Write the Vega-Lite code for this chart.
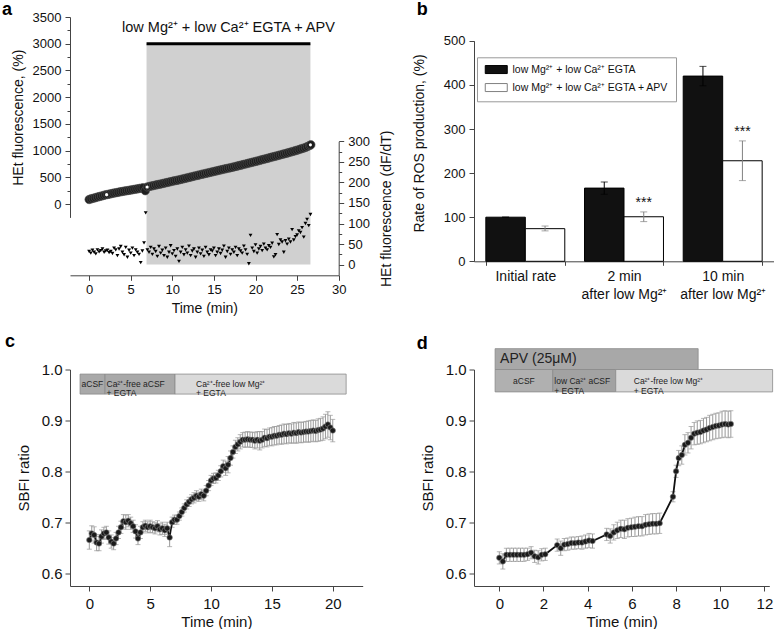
{
"$schema": "https://vega.github.io/schema/vega-lite/v6.json",
"background": "white",
"padding": {"left": 2, "top": 0, "right": 0, "bottom": 0},
"columns": 2,
"bounds": "flush",
"align": "all",
"spacing": {"row": 93.5, "column": 104},
"resolve": {"scale": {"fill": "independent", "stroke": "independent", "color": "independent"}, "legend": {"fill": "independent", "stroke": "independent", "color": "independent"}},
"datasets": {
"hetCurve": [{"t":0,"v":85},{"t":0.25,"v":97},{"t":0.5,"v":108},{"t":0.75,"v":119},{"t":1,"v":130},{"t":1.25,"v":141},{"t":1.5,"v":151},{"t":1.75,"v":162},{"t":2,"v":172},{"t":2.25,"v":180},{"t":2.5,"v":189},{"t":2.75,"v":197},{"t":3,"v":205},{"t":3.25,"v":213},{"t":3.5,"v":220},{"t":3.75,"v":228},{"t":4,"v":235},{"t":4.25,"v":242},{"t":4.5,"v":249},{"t":4.75,"v":255},{"t":5,"v":262},{"t":5.25,"v":269},{"t":5.5,"v":276},{"t":5.75,"v":283},{"t":6,"v":290},{"t":6.25,"v":297},{"t":6.5,"v":305},{"t":6.75,"v":250},{"t":7,"v":320},{"t":7.25,"v":329},{"t":7.5,"v":338},{"t":7.75,"v":346},{"t":8,"v":355},{"t":8.25,"v":364},{"t":8.5,"v":372},{"t":8.75,"v":381},{"t":9,"v":390},{"t":9.25,"v":399},{"t":9.5,"v":407},{"t":9.75,"v":416},{"t":10,"v":425},{"t":10.25,"v":434},{"t":10.5,"v":442},{"t":10.75,"v":451},{"t":11,"v":460},{"t":11.25,"v":470},{"t":11.5,"v":479},{"t":11.75,"v":489},{"t":12,"v":498},{"t":12.25,"v":508},{"t":12.5,"v":517},{"t":12.75,"v":527},{"t":13,"v":536},{"t":13.25,"v":545},{"t":13.5,"v":555},{"t":13.75,"v":564},{"t":14,"v":573},{"t":14.25,"v":582},{"t":14.5,"v":591},{"t":14.75,"v":600},{"t":15,"v":609},{"t":15.25,"v":618},{"t":15.5,"v":627},{"t":15.75,"v":636},{"t":16,"v":645},{"t":16.25,"v":654},{"t":16.5,"v":663},{"t":16.75,"v":672},{"t":17,"v":681},{"t":17.25,"v":690},{"t":17.5,"v":700},{"t":17.75,"v":709},{"t":18,"v":719},{"t":18.25,"v":728},{"t":18.5,"v":738},{"t":18.75,"v":747},{"t":19,"v":757},{"t":19.25,"v":767},{"t":19.5,"v":777},{"t":19.75,"v":787},{"t":20,"v":797},{"t":20.25,"v":807},{"t":20.5,"v":817},{"t":20.75,"v":828},{"t":21,"v":838},{"t":21.25,"v":848},{"t":21.5,"v":858},{"t":21.75,"v":869},{"t":22,"v":879},{"t":22.25,"v":889},{"t":22.5,"v":899},{"t":22.75,"v":910},{"t":23,"v":920},{"t":23.25,"v":931},{"t":23.5,"v":941},{"t":23.75,"v":952},{"t":24,"v":963},{"t":24.25,"v":974},{"t":24.5,"v":985},{"t":24.75,"v":996},{"t":25,"v":1008},{"t":25.25,"v":1020},{"t":25.5,"v":1033},{"t":25.75,"v":1046},{"t":26,"v":1060},{"t":26.25,"v":1076},{"t":26.5,"v":1094},{"t":26.65,"v":1108}],
"hetMarks": [{"t":2.1,"v":176},{"t":6.97,"v":319},{"t":26.6,"v":1108}],
"hetRate": [{"t":0,"r":32},{"t":0.2,"r":28},{"t":0.4,"r":35},{"t":0.6,"r":30},{"t":0.8,"r":26},{"t":1,"r":36},{"t":1.2,"r":31},{"t":1.4,"r":34},{"t":1.6,"r":38},{"t":1.8,"r":30},{"t":2,"r":33},{"t":2.2,"r":35},{"t":2.4,"r":29},{"t":2.6,"r":32},{"t":2.8,"r":27},{"t":3,"r":40},{"t":3.2,"r":36},{"t":3.4,"r":22},{"t":3.6,"r":38},{"t":3.8,"r":44},{"t":4,"r":30},{"t":4.2,"r":24},{"t":4.4,"r":42},{"t":4.6,"r":18},{"t":4.8,"r":35},{"t":5,"r":28},{"t":5.2,"r":40},{"t":5.4,"r":22},{"t":5.6,"r":36},{"t":5.8,"r":30},{"t":6,"r":25},{"t":6.2,"r":5},{"t":6.4,"r":33},{"t":6.6,"r":53},{"t":6.8,"r":126},{"t":7,"r":36},{"t":7.2,"r":30},{"t":7.4,"r":42},{"t":7.6,"r":25},{"t":7.8,"r":38},{"t":8,"r":32},{"t":8.2,"r":20},{"t":8.4,"r":44},{"t":8.6,"r":28},{"t":8.8,"r":35},{"t":9,"r":22},{"t":9.2,"r":40},{"t":9.4,"r":18},{"t":9.6,"r":30},{"t":9.8,"r":46},{"t":10,"r":26},{"t":10.2,"r":34},{"t":10.4,"r":20},{"t":10.6,"r":38},{"t":10.8,"r":8},{"t":11,"r":30},{"t":11.2,"r":42},{"t":11.4,"r":24},{"t":11.6,"r":36},{"t":11.8,"r":28},{"t":12,"r":45},{"t":12.2,"r":22},{"t":12.4,"r":33},{"t":12.6,"r":38},{"t":12.8,"r":18},{"t":13,"r":30},{"t":13.2,"r":40},{"t":13.4,"r":26},{"t":13.6,"r":35},{"t":13.8,"r":20},{"t":14,"r":42},{"t":14.2,"r":30},{"t":14.4,"r":24},{"t":14.6,"r":36},{"t":14.8,"r":33},{"t":15,"r":40},{"t":15.2,"r":22},{"t":15.4,"r":30},{"t":15.6,"r":38},{"t":15.8,"r":27},{"t":16,"r":35},{"t":16.2,"r":45},{"t":16.4,"r":18},{"t":16.6,"r":32},{"t":16.8,"r":40},{"t":17,"r":25},{"t":17.2,"r":36},{"t":17.4,"r":30},{"t":17.6,"r":42},{"t":17.8,"r":22},{"t":18,"r":38},{"t":18.2,"r":33},{"t":18.4,"r":28},{"t":18.6,"r":45},{"t":18.8,"r":36},{"t":19,"r":25},{"t":19.2,"r":2},{"t":19.4,"r":71},{"t":19.6,"r":40},{"t":19.8,"r":32},{"t":20,"r":48},{"t":20.2,"r":28},{"t":20.4,"r":38},{"t":20.6,"r":44},{"t":20.8,"r":34},{"t":21,"r":50},{"t":21.2,"r":40},{"t":21.4,"r":36},{"t":21.6,"r":46},{"t":21.8,"r":42},{"t":22,"r":52},{"t":22.2,"r":19},{"t":22.4,"r":24},{"t":22.6,"r":73},{"t":22.8,"r":49},{"t":23,"r":60},{"t":23.2,"r":55},{"t":23.4,"r":30},{"t":23.6,"r":58},{"t":23.8,"r":50},{"t":24,"r":62},{"t":24.2,"r":55},{"t":24.4,"r":85},{"t":24.6,"r":60},{"t":24.8,"r":68},{"t":25,"r":72},{"t":25.2,"r":82},{"t":25.4,"r":78},{"t":25.6,"r":90},{"t":25.8,"r":67},{"t":26,"r":100},{"t":26.2,"r":110},{"t":26.4,"r":95},{"t":26.6,"r":122}],
"ros": [
{"period":"Initial rate","cond":"low Mg²⁺ + low Ca²⁺ EGTA","value":100,"lo":100,"hi":100,"sig":""},
{"period":"Initial rate","cond":"low Mg²⁺ + low Ca²⁺ EGTA + APV","value":74,"lo":69,"hi":80,"sig":""},
{"period":"2 min|after low Mg²⁺","cond":"low Mg²⁺ + low Ca²⁺ EGTA","value":166,"lo":152,"hi":180,"sig":""},
{"period":"2 min|after low Mg²⁺","cond":"low Mg²⁺ + low Ca²⁺ EGTA + APV","value":101,"lo":90,"hi":112,"sig":"***"},
{"period":"10 min|after low Mg²⁺","cond":"low Mg²⁺ + low Ca²⁺ EGTA","value":420,"lo":398,"hi":442,"sig":""},
{"period":"10 min|after low Mg²⁺","cond":"low Mg²⁺ + low Ca²⁺ EGTA + APV","value":228,"lo":183,"hi":273,"sig":"***"}],
"sbfiC": [{"t":0,"v":0.665,"e":0.018},{"t":0.2,"v":0.678,"e":0.015},{"t":0.4,"v":0.675,"e":0.016},{"t":0.6,"v":0.66,"e":0.016},{"t":0.8,"v":0.658,"e":0.014},{"t":1,"v":0.672,"e":0.013},{"t":1.2,"v":0.678,"e":0.012},{"t":1.4,"v":0.68,"e":0.012},{"t":1.6,"v":0.67,"e":0.013},{"t":1.8,"v":0.662,"e":0.013},{"t":2,"v":0.658,"e":0.012},{"t":2.2,"v":0.668,"e":0.012},{"t":2.4,"v":0.68,"e":0.012},{"t":2.6,"v":0.69,"e":0.012},{"t":2.8,"v":0.702,"e":0.013},{"t":3,"v":0.7,"e":0.014},{"t":3.2,"v":0.703,"e":0.012},{"t":3.4,"v":0.698,"e":0.012},{"t":3.6,"v":0.692,"e":0.012},{"t":3.8,"v":0.682,"e":0.013},{"t":4,"v":0.668,"e":0.012},{"t":4.2,"v":0.68,"e":0.012},{"t":4.4,"v":0.69,"e":0.011},{"t":4.6,"v":0.693,"e":0.011},{"t":4.8,"v":0.69,"e":0.011},{"t":5,"v":0.692,"e":0.012},{"t":5.2,"v":0.69,"e":0.011},{"t":5.4,"v":0.688,"e":0.011},{"t":5.6,"v":0.692,"e":0.011},{"t":5.8,"v":0.686,"e":0.011},{"t":6,"v":0.688,"e":0.012},{"t":6.2,"v":0.684,"e":0.012},{"t":6.4,"v":0.688,"e":0.012},{"t":6.6,"v":0.67,"e":0.018},{"t":6.8,"v":0.7,"e":0.01},{"t":7,"v":0.705,"e":0.009},{"t":7.2,"v":0.705,"e":0.009},{"t":7.4,"v":0.712,"e":0.008},{"t":7.6,"v":0.72,"e":0.008},{"t":7.8,"v":0.728,"e":0.008},{"t":8,"v":0.735,"e":0.009},{"t":8.2,"v":0.74,"e":0.009},{"t":8.4,"v":0.745,"e":0.009},{"t":8.6,"v":0.748,"e":0.01},{"t":8.8,"v":0.752,"e":0.01},{"t":9,"v":0.75,"e":0.009},{"t":9.2,"v":0.755,"e":0.01},{"t":9.4,"v":0.752,"e":0.01},{"t":9.6,"v":0.762,"e":0.01},{"t":9.8,"v":0.772,"e":0.01},{"t":10,"v":0.782,"e":0.01},{"t":10.2,"v":0.786,"e":0.01},{"t":10.4,"v":0.787,"e":0.01},{"t":10.6,"v":0.792,"e":0.01},{"t":10.8,"v":0.8,"e":0.011},{"t":11,"v":0.81,"e":0.012},{"t":11.2,"v":0.806,"e":0.014},{"t":11.4,"v":0.813,"e":0.016},{"t":11.6,"v":0.826,"e":0.014},{"t":11.8,"v":0.838,"e":0.012},{"t":12,"v":0.848,"e":0.013},{"t":12.2,"v":0.853,"e":0.013},{"t":12.4,"v":0.858,"e":0.014},{"t":12.6,"v":0.862,"e":0.014},{"t":12.8,"v":0.862,"e":0.015},{"t":13,"v":0.863,"e":0.015},{"t":13.2,"v":0.862,"e":0.015},{"t":13.4,"v":0.862,"e":0.015},{"t":13.6,"v":0.86,"e":0.016},{"t":13.8,"v":0.862,"e":0.016},{"t":14,"v":0.86,"e":0.018},{"t":14.2,"v":0.862,"e":0.016},{"t":14.4,"v":0.866,"e":0.017},{"t":14.6,"v":0.865,"e":0.017},{"t":14.8,"v":0.868,"e":0.017},{"t":15,"v":0.868,"e":0.018},{"t":15.2,"v":0.87,"e":0.018},{"t":15.4,"v":0.87,"e":0.018},{"t":15.6,"v":0.872,"e":0.018},{"t":15.8,"v":0.872,"e":0.019},{"t":16,"v":0.874,"e":0.019},{"t":16.2,"v":0.873,"e":0.019},{"t":16.4,"v":0.875,"e":0.019},{"t":16.6,"v":0.874,"e":0.019},{"t":16.8,"v":0.876,"e":0.02},{"t":17,"v":0.875,"e":0.02},{"t":17.2,"v":0.877,"e":0.02},{"t":17.4,"v":0.876,"e":0.02},{"t":17.6,"v":0.877,"e":0.02},{"t":17.8,"v":0.878,"e":0.02},{"t":18,"v":0.878,"e":0.021},{"t":18.2,"v":0.879,"e":0.021},{"t":18.4,"v":0.88,"e":0.021},{"t":18.6,"v":0.879,"e":0.021},{"t":18.8,"v":0.881,"e":0.022},{"t":19,"v":0.882,"e":0.022},{"t":19.2,"v":0.884,"e":0.023},{"t":19.4,"v":0.888,"e":0.024},{"t":19.6,"v":0.892,"e":0.025},{"t":19.8,"v":0.886,"e":0.024},{"t":20,"v":0.88,"e":0.022}],
"sbfiD": [{"t":0,"v":0.63,"e":0.012},{"t":0.16,"v":0.623,"e":0.015},{"t":0.32,"v":0.636,"e":0.013},{"t":0.48,"v":0.636,"e":0.013},{"t":0.64,"v":0.636,"e":0.013},{"t":0.8,"v":0.636,"e":0.013},{"t":0.96,"v":0.636,"e":0.013},{"t":1.12,"v":0.636,"e":0.013},{"t":1.28,"v":0.637,"e":0.012},{"t":1.44,"v":0.64,"e":0.012},{"t":1.6,"v":0.633,"e":0.012},{"t":1.76,"v":0.631,"e":0.013},{"t":1.92,"v":0.636,"e":0.012},{"t":2.08,"v":0.637,"e":0.012},{"t":2.62,"v":0.655,"e":0.012},{"t":2.78,"v":0.649,"e":0.014},{"t":2.94,"v":0.656,"e":0.012},{"t":3.1,"v":0.657,"e":0.012},{"t":3.26,"v":0.659,"e":0.012},{"t":3.42,"v":0.659,"e":0.012},{"t":3.58,"v":0.66,"e":0.012},{"t":3.74,"v":0.66,"e":0.013},{"t":3.9,"v":0.662,"e":0.013},{"t":4.06,"v":0.664,"e":0.014},{"t":4.22,"v":0.663,"e":0.014},{"t":4.86,"v":0.676,"e":0.012},{"t":5.02,"v":0.673,"e":0.014},{"t":5.18,"v":0.68,"e":0.015},{"t":5.34,"v":0.684,"e":0.016},{"t":5.5,"v":0.687,"e":0.017},{"t":5.66,"v":0.686,"e":0.018},{"t":5.82,"v":0.689,"e":0.018},{"t":5.98,"v":0.69,"e":0.018},{"t":6.14,"v":0.691,"e":0.019},{"t":6.3,"v":0.692,"e":0.019},{"t":6.46,"v":0.692,"e":0.019},{"t":6.62,"v":0.695,"e":0.02},{"t":6.78,"v":0.696,"e":0.02},{"t":6.94,"v":0.697,"e":0.02},{"t":7.1,"v":0.697,"e":0.02},{"t":7.26,"v":0.698,"e":0.02},{"t":7.86,"v":0.75,"e":0.01},{"t":8,"v":0.8,"e":0.012},{"t":8.12,"v":0.826,"e":0.015},{"t":8.26,"v":0.832,"e":0.018},{"t":8.4,"v":0.852,"e":0.02},{"t":8.54,"v":0.856,"e":0.02},{"t":8.68,"v":0.866,"e":0.022},{"t":8.82,"v":0.874,"e":0.022},{"t":8.96,"v":0.876,"e":0.023},{"t":9.1,"v":0.877,"e":0.023},{"t":9.24,"v":0.88,"e":0.024},{"t":9.38,"v":0.882,"e":0.024},{"t":9.52,"v":0.885,"e":0.025},{"t":9.66,"v":0.887,"e":0.025},{"t":9.8,"v":0.889,"e":0.025},{"t":9.94,"v":0.89,"e":0.025},{"t":10.08,"v":0.892,"e":0.026},{"t":10.22,"v":0.893,"e":0.026},{"t":10.36,"v":0.892,"e":0.026},{"t":10.48,"v":0.893,"e":0.026}],
"stepsC": [{"order":1,"start":-0.76,"end":1.29,"label":"aCSF"},{"order":2,"start":1.29,"end":7.04,"label":"Ca²⁺-free aCSF|+ EGTA"},{"order":3,"start":7.04,"end":21.1,"label":"Ca²⁺-free low Mg²⁺|+ EGTA"}],
"stepsD": [{"order":1,"start":-0.19,"end":2.42,"label":"aCSF"},{"order":2,"start":2.42,"end":5.27,"label":"low Ca²⁺ aCSF|+ EGTA"},{"order":3,"start":5.27,"end":12.37,"label":"Ca²⁺-free low Mg²⁺| + EGTA"}],
"apv": [{"start":-0.19,"end":9.0,"label":"APV (25μM)"}],
"treatA": [{"start":6.9,"end":26.6,"label":"low Mg²⁺ + low Ca²⁺  EGTA + APV"}]
},
"concat": [
{
 "width": 268.7, "height": 258.3,
 "title": {"text": "a", "dx": -68, "dy": 8.4, "offset": 0},
 "layer": [
   {"data": {"name": "treatA"}, "mark": {"type": "rect", "color": "#d0d0d0"},
    "encoding": {"x": {"field": "start", "type": "quantitative", "scale": {"domain": [-2.3, 30], "nice": false, "zero": false}, "title": "Time (min)"}, "x2": {"field": "end"},
     "y": {"datum": 3000, "type": "quantitative", "scale": {"domain": [-250, 3500], "range": [200.4, 0], "nice": false, "zero": false}, "axis": null}, "y2": {"datum": -1130}}},
   {"data": {"name": "treatA"}, "mark": {"type": "rule", "strokeWidth": 3, "color": "#000"},
    "encoding": {"x": {"field": "start", "type": "quantitative", "scale": {"domain": [-2.3, 30], "nice": false, "zero": false}, "title": "Time (min)"}, "x2": {"field": "end"},
     "y": {"datum": 3000, "type": "quantitative", "scale": {"domain": [-250, 3500], "range": [200.4, 0], "nice": false, "zero": false}, "axis": null}}},
   {"data": {"name": "treatA"}, "mark": {"type": "text", "fontSize": 14.5, "align": "center", "baseline": "middle", "color": "#111"},
    "encoding": {"x": {"datum": 16.75, "type": "quantitative", "scale": {"domain": [-2.3, 30], "nice": false, "zero": false}, "title": "Time (min)"},
     "y": {"datum": 3288, "type": "quantitative", "scale": {"domain": [-250, 3500], "range": [200.4, 0], "nice": false, "zero": false}, "axis": null}, "text": {"field": "label"}}},
   {"data": {"name": "hetCurve"}, "mark": {"type": "point", "filled": true, "size": 72, "color": "#1e1e1e", "stroke": "#555", "strokeWidth": 0.6, "opacity": 1},
    "encoding": {"x": {"field": "t", "type": "quantitative", "scale": {"domain": [-2.3, 30], "nice": false, "zero": false}, "title": "Time (min)",
       "axis": {"values": [0,2.5,5,7.5,10,12.5,15,17.5,20,22.5,25,27.5,30], "labelOverlap": false, "labelExpr": "datum.value % 5 === 0 ? datum.label : ''", "tickSize": {"condition": {"test": "datum.value % 5 === 0", "value": 5}, "value": 3}, "labelPadding": 3, "titleY": 26, "titleBaseline": "top", "labelFontSize": 13, "titleFontSize": 14}},
     "y": {"field": "v", "type": "quantitative", "scale": {"domain": [-250, 3500], "range": [200.4, 0], "nice": false, "zero": false}, "title": "HEt fluorescence, (%)",
       "axis": {"orient": "left", "values": [0,250,500,750,1000,1250,1500,1750,2000,2250,2500,2750,3000,3250,3500], "labelOverlap": false, "format": "d", "labelExpr": "datum.value % 500 === 0 ? datum.label : ''", "tickSize": {"condition": {"test": "datum.value % 500 === 0", "value": 5}, "value": 3}, "labelPadding": 4, "titleX": -45, "labelFontSize": 13, "titleFontSize": 14}}}},
   {"data": {"name": "hetMarks"}, "mark": {"type": "point", "filled": true, "size": 10, "color": "#fff", "opacity": 1},
    "encoding": {"x": {"field": "t", "type": "quantitative", "scale": {"domain": [-2.3, 30], "nice": false, "zero": false}, "title": "Time (min)"},
     "y": {"field": "v", "type": "quantitative", "scale": {"domain": [-250, 3500], "range": [200.4, 0], "nice": false, "zero": false}, "axis": null}}},
  {"data": {"name": "hetRate"}, "mark": {"type": "point", "shape": "triangle-down", "filled": true, "size": 15, "color": "#000", "opacity": 1},
   "encoding": {"x": {"field": "t", "type": "quantitative", "scale": {"domain": [-2.3, 30], "nice": false, "zero": false}, "title": "Time (min)"},
    "y": {"field": "r", "type": "quantitative", "scale": {"domain": [-26, 300], "range": [258.3, 124.3], "nice": false, "zero": false}, "title": "HEt fluorescence (dF/dT)",
      "axis": {"orient": "right", "values": [0,25,50,75,100,125,150,175,200,225,250,275,300], "labelOverlap": false, "format": "d", "labelExpr": "datum.value % 50 === 0 ? datum.label : ''", "tickSize": {"condition": {"test": "datum.value % 50 === 0", "value": 5}, "value": 3}, "labelPadding": 4, "titleAngle": -90, "titleBaseline": "bottom", "titleX": 54.7, "titleY": 191.3, "labelFontSize": 13, "titleFontSize": 14}}}}
 ],
 "resolve": {"scale": {"y": "independent"}, "axis": {"y": "independent"}}
},
{
 "width": 300, "height": 244.3,
 "title": {"text": "b", "dx": -57.3, "dy": 1.9, "offset": 0},
 "data": {"name": "ros"},
 "encoding": {
  "x": {"field": "period", "type": "nominal", "sort": ["Initial rate", "2 min|after low Mg²⁺", "10 min|after low Mg²⁺"], "scale": {"paddingInner": 0.2, "paddingOuter": 0.12}, "title": null,
   "axis": {"labelExpr": "split(datum.label, '|')", "labelAngle": 0, "labelFontSize": 14, "labelLineHeight": 18, "tickBand": "extent", "labelPadding": 4, "tickSize": 4}},
  "xOffset": {"field": "cond", "type": "nominal", "sort": ["low Mg²⁺ + low Ca²⁺ EGTA", "low Mg²⁺ + low Ca²⁺ EGTA + APV"], "scale": {"paddingInner": 0, "paddingOuter": 0}}
 },
 "layer": [
  {"mark": {"type": "bar", "stroke": "#000", "strokeWidth": 1},
   "encoding": {"y": {"field": "value", "type": "quantitative", "scale": {"domain": [0, 500], "range": [244.3, 23.8], "nice": false}, "title": "Rate of ROS production, (%)",
     "axis": {"values": [0,50,100,150,200,250,300,350,400,450,500], "labelOverlap": false, "format": "d", "labelExpr": "datum.value % 100 === 0 ? datum.label : ''", "tickSize": {"condition": {"test": "datum.value % 100 === 0", "value": 5}, "value": 3}, "labelPadding": 4, "titleX": -47.3, "titleY": 126, "labelFontSize": 13, "titleFontSize": 14}},
    "fill": {"field": "cond", "type": "nominal", "scale": {"domain": ["low Mg²⁺ + low Ca²⁺ EGTA", "low Mg²⁺ + low Ca²⁺ EGTA + APV"], "range": ["#111111", "#ffffff"]},
     "legend": {"title": null, "orient": "none", "legendX": 3, "legendY": 40.3, "direction": "vertical", "symbolType": "M-1,-1L4.5,-1L4.5,1L-1,1Z", "symbolSize": 64, "symbolStrokeColor": "#000", "symbolStrokeWidth": 1, "labelFontSize": 10.5, "labelOffset": 18, "padding": 7, "rowPadding": 5, "fillColor": "#ffffff", "strokeColor": "#999999", "labelLimit": 300}}}},
  {"mark": {"type": "rule", "strokeWidth": 1},
   "encoding": {"y": {"field": "lo", "type": "quantitative", "scale": {"domain": [0, 500], "range": [244.3, 23.8], "nice": false}, "title": "Rate of ROS production, (%)"}, "y2": {"field": "hi"},
    "stroke": {"field": "cond", "type": "nominal", "scale": {"domain": ["low Mg²⁺ + low Ca²⁺ EGTA", "low Mg²⁺ + low Ca²⁺ EGTA + APV"], "range": ["#000000", "#808080"]}, "legend": null}}},
  {"mark": {"type": "tick", "orient": "horizontal", "size": 7, "thickness": 1},
   "encoding": {"y": {"field": "hi", "type": "quantitative", "scale": {"domain": [0, 500], "range": [244.3, 23.8], "nice": false}, "title": "Rate of ROS production, (%)"},
    "color": {"field": "cond", "type": "nominal", "scale": {"domain": ["low Mg²⁺ + low Ca²⁺ EGTA", "low Mg²⁺ + low Ca²⁺ EGTA + APV"], "range": ["#000000", "#808080"]}, "legend": null}}},
  {"mark": {"type": "tick", "orient": "horizontal", "size": 7, "thickness": 1},
   "encoding": {"y": {"field": "lo", "type": "quantitative", "scale": {"domain": [0, 500], "range": [244.3, 23.8], "nice": false}, "title": "Rate of ROS production, (%)"},
    "color": {"field": "cond", "type": "nominal", "scale": {"domain": ["low Mg²⁺ + low Ca²⁺ EGTA", "low Mg²⁺ + low Ca²⁺ EGTA + APV"], "range": ["#000000", "#808080"]}, "legend": null}}},
  {"transform": [{"filter": "datum.sig !== ''"}], "mark": {"type": "text", "fontSize": 14, "baseline": "alphabetic", "dy": -5, "color": "#111"},
   "encoding": {"y": {"field": "hi", "type": "quantitative", "scale": {"domain": [0, 500], "range": [244.3, 23.8], "nice": false}, "title": "Rate of ROS production, (%)"}, "text": {"field": "sig"}}}
 ]
},
{
 "width": 292.7, "height": 216.5,
 "title": {"text": "c", "dx": -65, "dy": -12, "offset": 0},
 "layer": [
  {"data": {"name": "stepsC"}, "mark": {"type": "rect", "stroke": "#8a8a8a", "strokeWidth": 0.8},
   "encoding": {"x": {"field": "start", "type": "quantitative", "scale": {"domain": [-1.586, 22.46], "nice": false, "zero": false}, "title": "Time (min)"}, "x2": {"field": "end"},
    "y": {"datum": 0.991, "type": "quantitative", "scale": {"domain": [0.5747, 1.0], "nice": false, "zero": false}, "title": "SBFI ratio"}, "y2": {"datum": 0.9517},
    "fill": {"field": "label", "type": "nominal", "scale": {"domain": ["aCSF", "Ca²⁺-free aCSF|+ EGTA", "Ca²⁺-free low Mg²⁺|+ EGTA"], "range": ["#a9a9a9", "#a9a9a9", "#dadada"]}, "legend": null}}},
  {"data": {"name": "stepsC"}, "transform": [{"filter": "datum.order < 3"}], "mark": {"type": "text", "align": "left", "baseline": "middle", "dx": 1.5, "fontSize": 8.5, "lineBreak": "|", "lineHeight": 9, "color": "#222"},
   "encoding": {"x": {"field": "start", "type": "quantitative", "scale": {"domain": [-1.586, 22.46], "nice": false, "zero": false}, "title": "Time (min)"},
    "y": {"datum": 0.9713, "type": "quantitative", "scale": {"domain": [0.5747, 1.0], "nice": false, "zero": false}, "title": "SBFI ratio"}, "text": {"field": "label"}}},
  {"data": {"name": "stepsC"}, "transform": [{"filter": "datum.order === 3"}], "mark": {"type": "text", "align": "left", "baseline": "middle", "dx": 21, "fontSize": 8.5, "lineBreak": "|", "lineHeight": 9, "color": "#222"},
   "encoding": {"x": {"field": "start", "type": "quantitative", "scale": {"domain": [-1.586, 22.46], "nice": false, "zero": false}, "title": "Time (min)"},
    "y": {"datum": 0.9713, "type": "quantitative", "scale": {"domain": [0.5747, 1.0], "nice": false, "zero": false}, "title": "SBFI ratio"}, "text": {"field": "label"}}},
  {"data": {"name": "sbfiC"}, "mark": {"type": "errorbar", "color": "#999999", "ticks": {"size": 5}},
   "encoding": {"x": {"field": "t", "type": "quantitative", "scale": {"domain": [-1.586, 22.46], "nice": false, "zero": false}, "title": "Time (min)"},
    "y": {"field": "v", "type": "quantitative", "scale": {"domain": [0.5747, 1.0], "nice": false, "zero": false}, "title": "SBFI ratio"}, "yError": {"field": "e"}}},
  {"data": {"name": "sbfiC"}, "mark": {"type": "line", "color": "#111", "strokeWidth": 1.6},
   "encoding": {"x": {"field": "t", "type": "quantitative", "scale": {"domain": [-1.586, 22.46], "nice": false, "zero": false}, "title": "Time (min)",
      "axis": {"values": [0,2.5,5,7.5,10,12.5,15,17.5,20], "labelOverlap": false, "labelExpr": "datum.value % 5 === 0 ? datum.label : ''", "tickSize": {"condition": {"test": "datum.value % 5 === 0", "value": 5}, "value": 3}, "labelPadding": 5, "titleY": 28, "titleBaseline": "top", "labelFontSize": 15, "titleFontSize": 15}},
    "y": {"field": "v", "type": "quantitative", "scale": {"domain": [0.5747, 1.0], "nice": false, "zero": false}, "title": "SBFI ratio",
      "axis": {"values": [0.6,0.65,0.7,0.75,0.8,0.85,0.9,0.95,1.0], "labelOverlap": false, "format": ".1f", "labelExpr": "round(datum.value*100) % 10 === 0 ? datum.label : ''", "tickSize": {"condition": {"test": "round(datum.value*100) % 10 === 0", "value": 5}, "value": 3}, "labelPadding": 3, "titleX": -39, "labelFontSize": 15, "titleFontSize": 15}}}},
  {"data": {"name": "sbfiC"}, "mark": {"type": "point", "filled": true, "size": 30, "color": "#1a1a1a", "stroke": "#888", "strokeWidth": 0.6, "opacity": 1},
   "encoding": {"x": {"field": "t", "type": "quantitative", "scale": {"domain": [-1.586, 22.46], "nice": false, "zero": false}, "title": "Time (min)"},
    "y": {"field": "v", "type": "quantitative", "scale": {"domain": [0.5747, 1.0], "nice": false, "zero": false}, "title": "SBFI ratio"}}}
 ]
},
{
 "width": 295.3, "height": 216.5,
 "title": {"text": "d", "dx": -57.3, "dy": 4.5, "offset": 0},
 "layer": [
  {"data": {"name": "apv"}, "mark": {"type": "rect", "stroke": "#8a8a8a", "strokeWidth": 0.8, "color": "#a8a8a8"},
   "encoding": {"x": {"field": "start", "type": "quantitative", "scale": {"domain": [-1.145, 12.22], "nice": false, "zero": false}, "title": "Time (min)"}, "x2": {"field": "end"},
    "y": {"datum": 1.0, "type": "quantitative", "scale": {"domain": [0.5747, 1.0], "nice": false, "zero": false}, "title": "SBFI ratio"}, "y2": {"datum": 1.041}}},
  {"data": {"name": "apv"}, "mark": {"type": "text", "align": "left", "baseline": "middle", "dx": 5, "fontSize": 14, "color": "#222"},
   "encoding": {"x": {"field": "start", "type": "quantitative", "scale": {"domain": [-1.145, 12.22], "nice": false, "zero": false}, "title": "Time (min)"},
    "y": {"datum": 1.021, "type": "quantitative", "scale": {"domain": [0.5747, 1.0], "nice": false, "zero": false}, "title": "SBFI ratio"}, "text": {"field": "label"}}},
  {"data": {"name": "stepsD"}, "mark": {"type": "rect", "stroke": "#8a8a8a", "strokeWidth": 0.8},
   "encoding": {"x": {"field": "start", "type": "quantitative", "scale": {"domain": [-1.145, 12.22], "nice": false, "zero": false}, "title": "Time (min)"}, "x2": {"field": "end"},
    "y": {"datum": 1.0, "type": "quantitative", "scale": {"domain": [0.5747, 1.0], "nice": false, "zero": false}, "title": "SBFI ratio"}, "y2": {"datum": 0.956},
    "fill": {"field": "label", "type": "nominal", "scale": {"domain": ["aCSF", "low Ca²⁺ aCSF|+ EGTA", "Ca²⁺-free low Mg²⁺| + EGTA"], "range": ["#b0b0b0", "#a2a2a2", "#dadada"]}, "legend": null}}},
  {"data": {"name": "stepsD"}, "transform": [{"filter": "datum.order === 1"}], "mark": {"type": "text", "align": "center", "baseline": "middle", "dx": 28.8, "fontSize": 8.5, "color": "#222"},
   "encoding": {"x": {"field": "start", "type": "quantitative", "scale": {"domain": [-1.145, 12.22], "nice": false, "zero": false}, "title": "Time (min)"},
    "y": {"datum": 0.978, "type": "quantitative", "scale": {"domain": [0.5747, 1.0], "nice": false, "zero": false}, "title": "SBFI ratio"}, "text": {"field": "label"}}},
  {"data": {"name": "stepsD"}, "transform": [{"filter": "datum.order === 2"}], "mark": {"type": "text", "align": "left", "baseline": "middle", "dx": 1.5, "fontSize": 8.5, "lineBreak": "|", "lineHeight": 10, "color": "#222"},
   "encoding": {"x": {"field": "start", "type": "quantitative", "scale": {"domain": [-1.145, 12.22], "nice": false, "zero": false}, "title": "Time (min)"},
    "y": {"datum": 0.978, "type": "quantitative", "scale": {"domain": [0.5747, 1.0], "nice": false, "zero": false}, "title": "SBFI ratio"}, "text": {"field": "label"}}},
  {"data": {"name": "stepsD"}, "transform": [{"filter": "datum.order === 3"}], "mark": {"type": "text", "align": "left", "baseline": "middle", "dx": 18, "fontSize": 8.5, "lineBreak": "|", "lineHeight": 10, "color": "#222"},
   "encoding": {"x": {"field": "start", "type": "quantitative", "scale": {"domain": [-1.145, 12.22], "nice": false, "zero": false}, "title": "Time (min)"},
    "y": {"datum": 0.978, "type": "quantitative", "scale": {"domain": [0.5747, 1.0], "nice": false, "zero": false}, "title": "SBFI ratio"}, "text": {"field": "label"}}},
  {"data": {"name": "sbfiD"}, "mark": {"type": "errorbar", "color": "#999999", "ticks": {"size": 5}},
   "encoding": {"x": {"field": "t", "type": "quantitative", "scale": {"domain": [-1.145, 12.22], "nice": false, "zero": false}, "title": "Time (min)"},
    "y": {"field": "v", "type": "quantitative", "scale": {"domain": [0.5747, 1.0], "nice": false, "zero": false}, "title": "SBFI ratio"}, "yError": {"field": "e"}}},
  {"data": {"name": "sbfiD"}, "mark": {"type": "line", "color": "#111", "strokeWidth": 1.8},
   "encoding": {"x": {"field": "t", "type": "quantitative", "scale": {"domain": [-1.145, 12.22], "nice": false, "zero": false}, "title": "Time (min)",
      "axis": {"values": [0,1,2,3,4,5,6,7,8,9,10,11,12], "labelOverlap": false, "labelExpr": "datum.value % 2 === 0 ? datum.label : ''", "tickSize": {"condition": {"test": "datum.value % 2 === 0", "value": 5}, "value": 3}, "labelPadding": 5, "titleY": 28, "titleBaseline": "top", "labelFontSize": 15, "titleFontSize": 15}},
    "y": {"field": "v", "type": "quantitative", "scale": {"domain": [0.5747, 1.0], "nice": false, "zero": false}, "title": "SBFI ratio",
      "axis": {"values": [0.6,0.65,0.7,0.75,0.8,0.85,0.9,0.95,1.0], "labelOverlap": false, "format": ".1f", "labelExpr": "round(datum.value*100) % 10 === 0 ? datum.label : ''", "tickSize": {"condition": {"test": "round(datum.value*100) % 10 === 0", "value": 5}, "value": 3}, "labelPadding": 3, "titleX": -39, "labelFontSize": 15, "titleFontSize": 15}}}},
  {"data": {"name": "sbfiD"}, "mark": {"type": "point", "filled": true, "size": 30, "color": "#1a1a1a", "stroke": "#888", "strokeWidth": 0.6, "opacity": 1},
   "encoding": {"x": {"field": "t", "type": "quantitative", "scale": {"domain": [-1.145, 12.22], "nice": false, "zero": false}, "title": "Time (min)"},
    "y": {"field": "v", "type": "quantitative", "scale": {"domain": [0.5747, 1.0], "nice": false, "zero": false}, "title": "SBFI ratio"}}}
 ]
}
],
"config": {
 "view": {"stroke": null},
 "font": "Liberation Sans",
 "axis": {"grid": false, "domainColor": "#444", "tickColor": "#444", "labelColor": "#111", "titleColor": "#111", "titleFontWeight": "normal", "labelFont": "Liberation Sans", "titleFont": "Liberation Sans", "labelFlush": false, "labelOverlap": false, "tickSize": 4},
 "title": {"font": "Liberation Sans", "fontSize": 18, "fontWeight": "bold", "anchor": "start", "frame": "group", "color": "#000"},
 "legend": {"labelFont": "Liberation Sans", "labelColor": "#111"}
}
}
